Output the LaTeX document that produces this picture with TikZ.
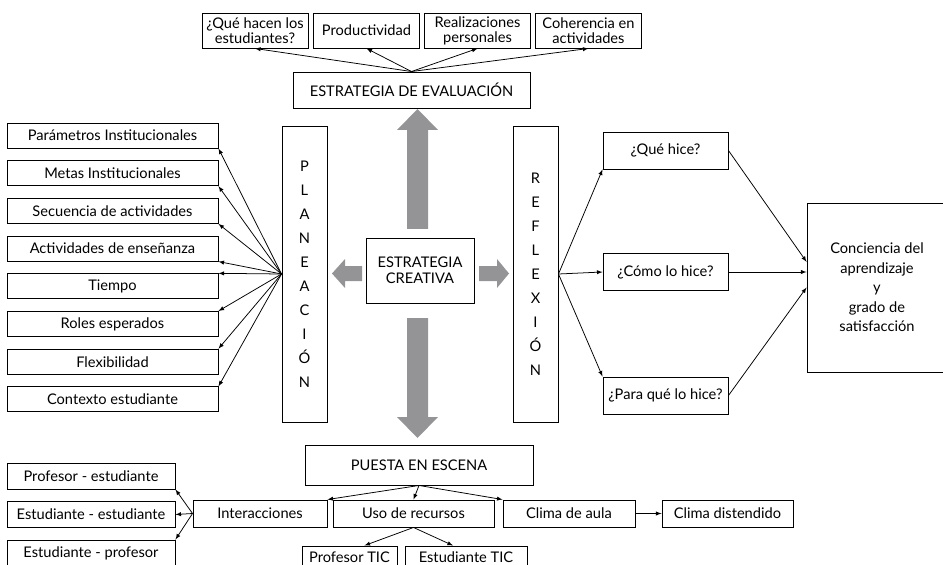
\documentclass[tikz,border=0pt]{standalone}
\usepackage{fontspec}
\setmainfont{Lato}
\usepackage{tikz}
\usetikzlibrary{arrows}
\definecolor{bigarrowgray}{RGB}{148,148,150}
\tikzstyle{block} = [rectangle, draw=black, line width=0.8pt, align=center, inner sep=0,
                     font=\fontsize{12.5}{13}\selectfont]
\tikzstyle{evalitem} = [block, minimum width=3.18cm, minimum height=1.05cm]
\tikzstyle{planitem} = [block, minimum width=6.33cm, minimum height=0.75cm]
\tikzstyle{letterbox} = [block, minimum width=1.35cm, minimum height=8.88cm,
                         font=\fontsize{12.5}{20.5}\selectfont]
\tikzstyle{qbox} = [block, minimum width=3.75cm, minimum height=1.11cm]
\tikzstyle{stage} = [block, minimum height=0.81cm]
\tikzstyle{pairbox} = [block, minimum width=5.04cm, minimum height=0.78cm]
\tikzstyle{link} = [-latex, line width=0.65pt]
\tikzstyle{bigarrow} = [fill=bigarrowgray]

\begin{document}
\begin{tikzpicture}[x=0.03cm, y=-0.03cm]
	\useasboundingbox (0, 0) rectangle (943, 565);

	\node (Creat) [block, minimum width=3.24cm, minimum height=1.95cm,
	               font=\fontsize{12.5}{13.4}\selectfont] at (420, 270.5) {ESTRATEGIA\\CREATIVA};

	% gray arrows out of the core
	\fill [bigarrow] (407, 229) -- (407, 130) -- (397, 130) -- (417.5, 109) -- (438, 130) -- (428, 130) -- (428, 229) -- cycle;
	\fill [bigarrow] (407, 318) -- (407, 417) -- (397, 417) -- (417.5, 438) -- (438, 417) -- (428, 417) -- (428, 318) -- cycle;
	\fill [bigarrow] (362, 266) -- (345, 266) -- (345, 259) -- (332, 273.5) -- (345, 288) -- (345, 281) -- (362, 281) -- cycle;
	\fill [bigarrow] (479, 266) -- (497, 266) -- (497, 259) -- (509, 273.5) -- (497, 288) -- (497, 281) -- (479, 281) -- cycle;

	% evaluation
	\node (Eval) [block, minimum width=7.11cm, minimum height=1.08cm] at (411.5, 90) {ESTRATEGIA DE EVALUACIÓN};
	\node (Hacen) [evalitem] at (255, 30.5) {¿Qué hacen los\\estudiantes?};
	\node (Prod) [evalitem] at (366.5, 30.5) {Productividad};
	\node (Real) [evalitem] at (477.5, 30.5) {Realizaciones\\personales};
	\node (Coher) [evalitem] at (588.5, 30.5) {Coherencia en\\actividades};
	\draw [link] (Eval.north) -- (Hacen.south);
	\draw [link] (Eval.north) -- (Prod.south);
	\draw [link] (Eval.north) -- (Real.south);
	\draw [link] (Eval.north) -- (Coher.south);

	% planning
	\node (Plan) [letterbox] at (304.5, 274) {P\\L\\A\\N\\E\\A\\C\\I\\Ó\\N};
	\node (Param) [planitem] at (112.5, 135.5) {Parámetros Institucionales};
	\node (Metas) [planitem] at (112.5, 173.2) {Metas Institucionales};
	\node (Secu) [planitem] at (112.5, 210.9) {Secuencia de actividades};
	\node (Ense) [planitem] at (112.5, 248.6) {Actividades de enseñanza};
	\node (Tiempo) [planitem] at (112.5, 286.3) {Tiempo};
	\node (Roles) [planitem] at (112.5, 324) {Roles esperados};
	\node (Flex) [planitem] at (112.5, 361.7) {Flexibilidad};
	\node (Contx) [planitem] at (112.5, 399.4) {Contexto estudiante};
	\draw [link] (Plan.west) -- (Param.south east);
	\draw [link] (Plan.west) -- (Metas.south east);
	\draw [link] (Plan.west) -- (Secu.south east);
	\draw [link] (Plan.west) -- (Ense.south east);
	\draw [link] (Plan.west) -- (Tiempo.north east);
	\draw [link] (Plan.west) -- (Roles.north east);
	\draw [link] (Plan.west) -- (Flex.north east);
	\draw [link] (Plan.west) -- (Contx.north east);

	% reflection
	\node (Refl) [letterbox] at (535.5, 274) {R\\E\\F\\L\\E\\X\\I\\Ó\\N};
	\node (Que) [qbox] at (665.5, 150.5) {¿Qué hice?};
	\node (Como) [qbox] at (665.5, 272) {¿Cómo lo hice?};
	\node (Para) [qbox] at (665.5, 395.5) {¿Para qué lo hice?};
	\draw [link] (Refl.east) -- (Que.south west);
	\draw [link] (Refl.east) -- (Como.west);
	\draw [link] (Refl.east) -- (Para.north west);

	\node (Conc) [block, minimum width=4.2cm, minimum height=5.07cm,
	              font=\fontsize{12.5}{16.6}\selectfont] at (877, 287.5)
	      {Conciencia del\\aprendizaje\\y\\grado de\\satisfacción};
	\draw [link] (Que.east) -- ([yshift=0.77cm]Conc.west);
	\draw [link] (Como.east) -- (Como.east -| Conc.west);
	\draw [link] (Para.east) -- (Conc.west);

	% staging
	\node (Puesta) [block, minimum width=6.84cm, minimum height=1.2cm] at (419, 465) {PUESTA EN ESCENA};
	\node (Inter) [stage, minimum width=4.02cm] at (260, 513.5) {Interacciones};
	\node (Uso) [stage, minimum width=4.83cm] at (413.5, 513.5) {Uso de recursos};
	\node (Clima) [stage, minimum width=3.96cm] at (569, 513.5) {Clima de aula};
	\node (Dist) [stage, minimum width=3.93cm] at (727.5, 513.5) {Clima distendido};
	\draw [link] (Puesta.south) -- (Inter.north east);
	\draw [link] (Puesta.south) -- (Uso.north);
	\draw [link] (Puesta.south) -- (Clima.north west);
	\draw [link] (Clima) -- (Dist);

	\node (ProfEst) [pairbox] at (91, 476) {Profesor - estudiante};
	\node (EstEst) [pairbox] at (91, 514.5) {Estudiante - estudiante};
	\node (EstProf) [pairbox, minimum height=0.81cm] at (91, 553.5) {Estudiante - profesor};
	\draw [link] (Inter.west) -- (ProfEst.south east);
	\draw [link] (Inter.west) -- (EstEst.east);
	\draw [link] (Inter.west) -- (EstProf.north east);

	\node (ProfTIC) [block, minimum width=2.85cm, minimum height=0.69cm] at (349.5, 557.5) {Profesor TIC};
	\node (EstTIC) [block, minimum width=3.66cm, minimum height=0.69cm] at (466, 557.5) {Estudiante TIC};
	\draw [link] (Uso.south) -- ([xshift=0.45cm]ProfTIC.north);
	\draw [link] (Uso.south) -- ([xshift=-0.39cm]EstTIC.north);
\end{tikzpicture}
\end{document}
